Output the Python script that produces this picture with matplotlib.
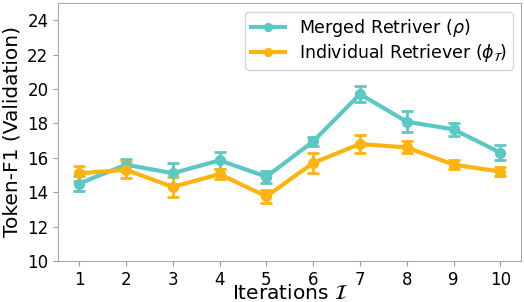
import matplotlib
matplotlib.use("Agg")
from matplotlib import pyplot as plt

# data
iterations = [1, 2, 3, 4, 5, 6, 7, 8, 9, 10]
merged = [14.5, 15.6, 15.1, 15.85, 14.9, 16.95, 19.7, 18.1, 17.65, 16.3]
merged_err = [0.45, 0.35, 0.6, 0.5, 0.35, 0.25, 0.45, 0.6, 0.4, 0.45]
individual = [15.1, 15.3, 14.3, 15.05, 13.75, 15.7, 16.8, 16.6, 15.6, 15.2]
individual_err = [0.45, 0.5, 0.6, 0.3, 0.4, 0.6, 0.5, 0.35, 0.25, 0.25]

teal = "#5cc8c4"
orange = "#ffb30f"

fig, ax = plt.subplots(figsize=(5.24, 3.02), dpi=100)

m = ax.errorbar(iterations, merged, yerr=merged_err, color=teal, marker="o",
                markersize=7, linewidth=3, capsize=4, capthick=2, elinewidth=2)
i = ax.errorbar(iterations, individual, yerr=individual_err, color=orange, marker="o",
                markersize=7, linewidth=3, capsize=4, capthick=2, elinewidth=2)

ax.set_ylim(10, 25)
ax.set_yticks([10, 12, 14, 16, 18, 20, 22, 24])
ax.set_xticks(iterations)
ax.tick_params(labelsize=12, color="#999999")
for s in ax.spines.values():
    s.set_color("#aaaaaa")

ax.set_xlabel(r"Iterations $\mathcal{I}$", fontsize=14.5, labelpad=-3)
ax.set_ylabel("Token-F1 (Validation)", fontsize=14.5)

# legend shows only line + marker, no error bars
ax.legend([m[0], i[0]],
          [r"Merged Retriver ($\rho$)", r"Individual Retriever ($\phi_\mathcal{T}$)"],
          loc="upper right", fontsize=12.5, handlelength=2.0, markerscale=0.8,
          labelspacing=0.2, borderpad=0.3)

fig.subplots_adjust(left=0.111, right=0.995, top=0.99, bottom=0.136)
fig.savefig("out.png", dpi=100)
